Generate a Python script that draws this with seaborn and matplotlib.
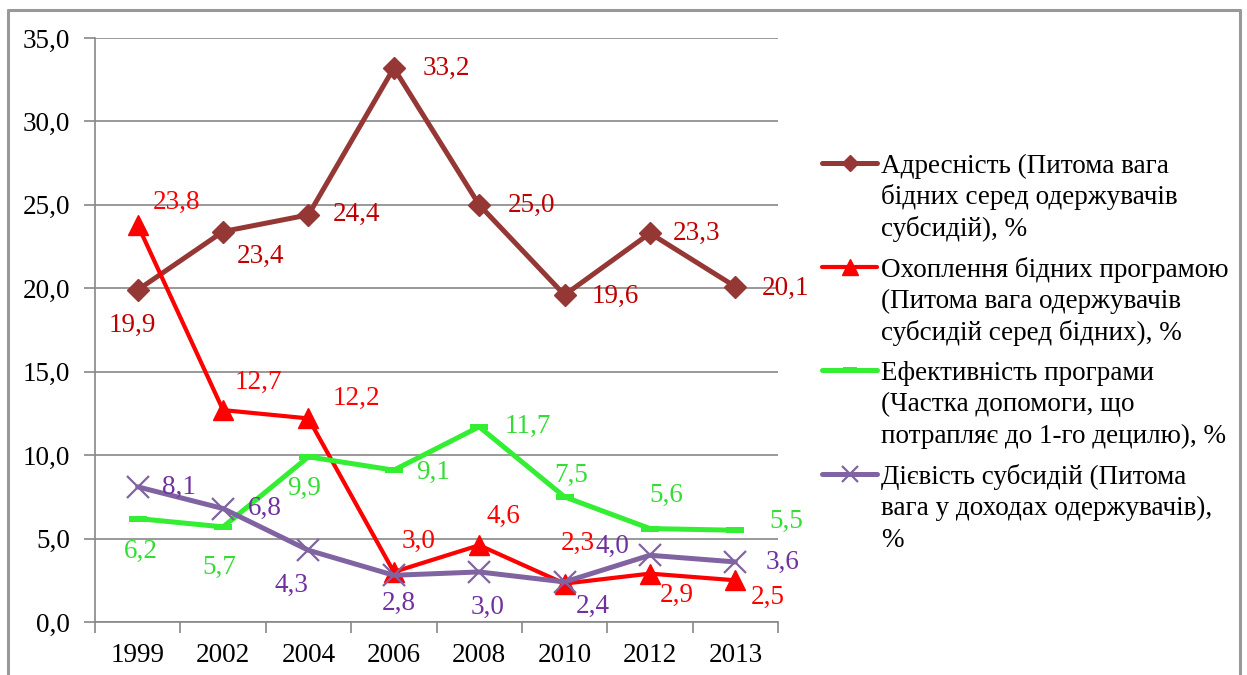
import matplotlib
matplotlib.use('Agg')
import matplotlib.pyplot as plt
import matplotlib.lines as mlines
import pandas as pd
import seaborn as sns

# -----------------------------
# Data
# -----------------------------
years = ["1999", "2002", "2004", "2006", "2008", "2010", "2012", "2013"]

targeting = [19.9, 23.4, 24.4, 33.2, 25.0, 19.6, 23.3, 20.1]
coverage = [23.8, 12.7, 12.2, 3.0, 4.6, 2.3, 2.9, 2.5]
efficiency = [6.2, 5.7, 9.9, 9.1, 11.7, 7.5, 5.6, 5.5]
effectiveness = [8.1, 6.8, 4.3, 2.8, 3.0, 2.4, 4.0, 3.6]

series_names = [
    ["Адресність (Питома вага", "бідних серед одержувачів", "субсидій), %"],
    ["Охоплення бідних програмою", "(Питома вага одержувачів", "субсидій серед бідних), %"],
    ["Ефективність програми", "(Частка допомоги, що", "потрапляє до 1-го децилю), %"],
    ["Дієвість субсидій (Питома", "вага у доходах одержувачів),", "%"],
]

y_ticks = [0, 5, 10, 15, 20, 25, 30, 35]
y_tick_labels = ["0,0", "5,0", "10,0", "15,0", "20,0", "25,0", "30,0", "35,0"]

# -----------------------------
# Styles
# -----------------------------
dash = [(-1, -0.38), (1, -0.38), (1, 0.38), (-1, 0.38), (-1, -0.38)]
styles = [
    dict(color="#953735", text="#C00000", marker="D", ms=11, lw=3.6, mew=1),
    dict(color="#FF0000", text="#FF0000", marker="^", ms=15, lw=3.0, mew=1),
    dict(color="#33EE33", text="#33DD33", marker=dash, ms=13, lw=3.6, mew=0),
    dict(color="#8064A2", text="#7030A0", marker="x", ms=16, lw=3.6, mew=1.6),
]

# label offsets in pixels (dx, dy)
offsets = [
    [(-5, -35), (37, -25), (48, 0), (53, 0), (52, -1), (51, -1), (47, 0), (50, -2)],
    [(39, 22), (35, 28), (48, 20), (25, 31), (24, 29), (13, 40), (27, -22), (32, -17)],
    [(3, -33), (-4, -41), (-4, -32), (39, -2), (49, 0), (7, 21), (16, 33), (51, 9)],
    [(41, -1), (42, 0), (-17, -35), (5, -28), (8, -35), (28, -24), (-37, 9), (47, 0)],
]

all_values = [targeting, coverage, efficiency, effectiveness]

W, H = 1247, 675
FS = 19.5

sns.set_theme(style="white")
plt.rcParams['font.family'] = ['Liberation Serif', 'DejaVu Serif']

fig = plt.figure(figsize=(W / 100, H / 100), dpi=100)
ax = fig.add_axes([95 / W, 1 - 622 / H, (778 - 95) / W, (622 - 38) / H])

x = list(range(len(years)))
for vals, st, offs in zip(all_values, styles, offsets):
    df = pd.DataFrame({"x": x, "y": vals})
    sns.lineplot(data=df, x="x", y="y", ax=ax, color=st["color"], linewidth=st["lw"],
                 marker=st["marker"], markersize=st["ms"], markeredgewidth=st["mew"],
                 markeredgecolor=st["color"], markerfacecolor=st["color"], zorder=3)
    for xi, v, (dx, dy) in zip(x, vals, offs):
        ax.annotate(f"{v:.1f}".replace(".", ","), (xi, v), xytext=(dx, dy),
                    textcoords="offset pixels", ha="center", va="center",
                    color=st["text"], fontsize=FS, zorder=4)

ax.set_xlim(-0.5, len(years) - 0.5)
ax.set_ylim(0, 35)
ax.set_xticks(x)
ax.set_xticklabels(years)
ax.set_xticks([i - 0.5 for i in range(len(years) + 1)], minor=True)
ax.set_yticks(y_ticks)
ax.set_yticklabels(y_tick_labels)
ax.set_xlabel("")
ax.set_ylabel("")

ax.tick_params(axis="x", which="major", length=0, pad=15, labelsize=FS, colors="black")
ax.tick_params(axis="x", which="minor", length=8, width=1.2, color="#888888", direction="out", bottom=True)
ax.tick_params(axis="y", length=8, width=1.2, color="#888888", direction="out", left=True,
               pad=10, labelsize=FS, labelcolor="black")

ax.yaxis.grid(True, color="#888888", linewidth=1.2)
ax.set_axisbelow(True)
for side in ["top", "right"]:
    ax.spines[side].set_visible(False)
for side in ["left", "bottom"]:
    ax.spines[side].set_color("#888888")
    ax.spines[side].set_linewidth(1.2)

# legend: handle beside the first line of each wrapped entry
for i, (lines, st) in enumerate(zip(series_names, styles)):
    y0 = 163 + 103.7 * i
    handle = mlines.Line2D([822 / W, 877 / W], [1 - y0 / H] * 2, transform=fig.transFigure,
                           color=st["color"], linewidth=st["lw"])
    fig.add_artist(handle)
    mk = mlines.Line2D([849.5 / W], [1 - y0 / H], transform=fig.transFigure,
                       marker=st["marker"], markersize=st["ms"] * 0.75, linestyle="none",
                       markeredgewidth=st["mew"], markeredgecolor=st["color"],
                       markerfacecolor=st["color"])
    fig.add_artist(mk)
    for j, line in enumerate(lines):
        fig.text(881 / W, 1 - (y0 + 31.5 * j) / H, line, ha="left", va="center_baseline",
                 fontsize=FS, color="black")

# outer frame
frame_kw = dict(color="#999999", linewidth=2.2, transform=fig.transFigure)
fig.add_artist(mlines.Line2D([8 / W, 8 / W], [0, 1 - 10 / H], **frame_kw))
fig.add_artist(mlines.Line2D([8 / W, 1240 / W], [1 - 10 / H, 1 - 10 / H], **frame_kw))
fig.add_artist(mlines.Line2D([1240 / W, 1240 / W], [0, 1 - 10 / H], **frame_kw))

fig.savefig("out.png", dpi=100)
plt.close(fig)
